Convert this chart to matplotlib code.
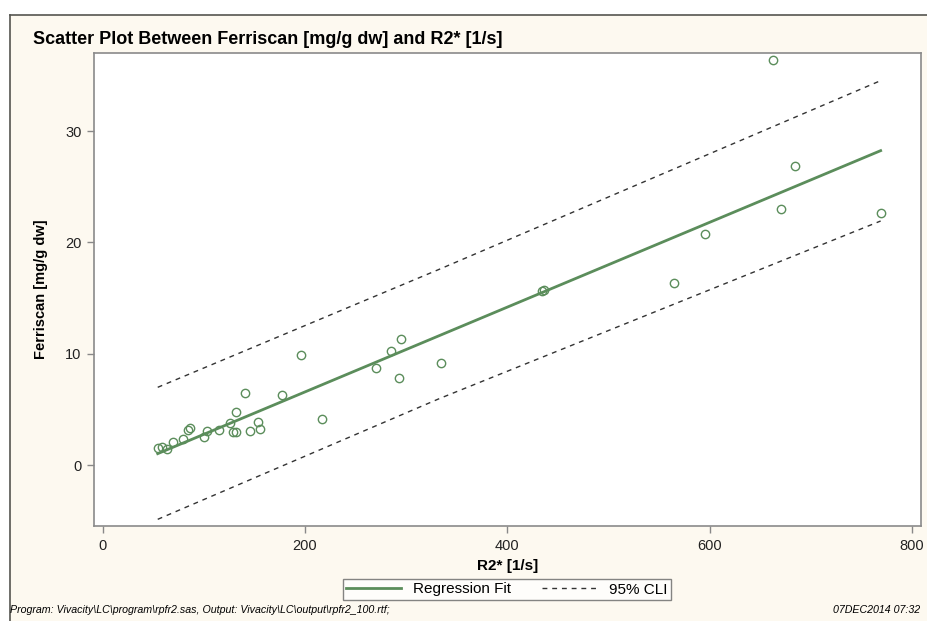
import numpy as np
import matplotlib.pyplot as plt
from matplotlib.lines import Line2D
from matplotlib.patches import Rectangle

r2_star = [54.4, 58.3, 63.9, 69.8, 79.7, 84.6, 86.3, 100.1, 103.4, 115.3,
           125.9, 129.1, 131.5, 132.1, 140.7, 145.6, 153.9, 155.5, 176.9, 195.7,
           217.1, 269.9, 285.0, 293.2, 294.9, 334.5, 434.6, 436.0, 565.0, 595.5,
           662.4, 670.6, 684.7, 769.1]
ferriscan = [1.55, 1.59, 1.41, 2.07, 2.31, 3.17, 3.35, 2.49, 3.08, 3.17,
             3.77, 2.99, 2.99, 4.76, 6.50, 3.08, 3.89, 3.20, 6.29, 9.91,
             4.10, 8.69, 10.24, 7.79, 11.32, 9.19, 15.62, 15.70, 16.32, 20.73,
             36.4, 23.0, 26.9, 22.6]

# Regression fit and 95% CLI read at start, middle and end
fit_x = [54.4, 769.1]
fit_y = [1.02, 28.24]
cli_x = [54.4, 333.5, 769.1]
cli_upper = [6.98, 17.61, 34.53]
cli_lower = [-4.88, 5.99, 21.92]

xticks = [0, 200, 400, 600, 800]
yticks = [0, 10, 20, 30]

green = '#5b8d5b'
cream = '#fdf9f0'
W, H = 928, 621

plt.rcParams['font.family'] = ['Liberation Sans', 'DejaVu Sans']

fig = plt.figure(figsize=(9.28, 6.21), dpi=100)
fig.patch.set_facecolor('white')

# cream page with border at top/left
fig.add_artist(Rectangle((10 / W, 0), 1, 1 - 15 / H, transform=fig.transFigure,
                         facecolor=cream, edgecolor='none', zorder=-10))
fig.add_artist(Line2D([10 / W, 1], [1 - 15 / H, 1 - 15 / H], color='#555550', lw=1.2, zorder=-5))
fig.add_artist(Line2D([10 / W, 10 / W], [0, 1 - 15 / H], color='#555550', lw=1.2, zorder=-5))

ax = fig.add_axes([94 / W, 1 - 526 / H, (920.7 - 94) / W, (526 - 52.7) / H])
ax.set_facecolor('white')

ax.plot(r2_star, ferriscan, 'o', mfc='none', mec=green, mew=1.0, ms=6, zorder=3)
ax.plot(fit_x, fit_y, color=green, lw=2, zorder=2)
ax.plot(cli_x, cli_upper, color='#333333', lw=1, ls=(0, (3.5, 3.5)), zorder=2)
ax.plot(cli_x, cli_lower, color='#333333', lw=1, ls=(0, (3.5, 3.5)), zorder=2)

ax.set_xlim(-8.6, 808.7)
ax.set_ylim(-5.48, 37.04)
ax.set_xticks(xticks)
ax.set_yticks(yticks)
ax.tick_params(direction='out', length=5, width=1, color='#888888',
               labelsize=10.5, labelcolor='#222222', pad=4)
for s in ax.spines.values():
    s.set_color('#8a8a8a')
    s.set_linewidth(1.2)

ax.set_xlabel('R2* [1/s]', fontsize=11, fontweight='bold', labelpad=5)
ax.set_ylabel('Ferriscan [mg/g dw]', fontsize=10.5, fontweight='bold', labelpad=12)

fig.text(33 / W, 1 - 40 / H, 'Scatter Plot Between Ferriscan [mg/g dw] and R2* [1/s]',
         fontsize=13, fontweight='bold', va='center', ha='left')

handles = [Line2D([], [], color=green, lw=2),
           Line2D([], [], color='#333333', lw=1, ls=(0, (3.5, 3.5)))]
leg = fig.legend(handles, ['Regression Fit', '95% CLI'], ncol=2,
                 loc='center', bbox_to_anchor=(507 / W, 1 - 589.5 / H),
                 fontsize=11, frameon=True, fancybox=False, handlelength=3.6,
                 borderpad=0.2, columnspacing=2.0, handletextpad=0.8,
                 borderaxespad=0)
leg.get_frame().set_edgecolor('#666666')
leg.get_frame().set_linewidth(1)
leg.get_frame().set_facecolor('white')

fig.text(10 / W, 1 - 610 / H,
         'Program: Vivacity\\LC\\program\\rpfr2.sas, Output: Vivacity\\LC\\output\\rpfr2_100.rtf;',
         fontsize=7.7, style='italic', va='center', ha='left')
fig.text(920 / W, 1 - 610 / H, '07DEC2014 07:32', fontsize=7.7, style='italic',
         va='center', ha='right')

fig.savefig('out.png', dpi=100, facecolor=fig.get_facecolor())
